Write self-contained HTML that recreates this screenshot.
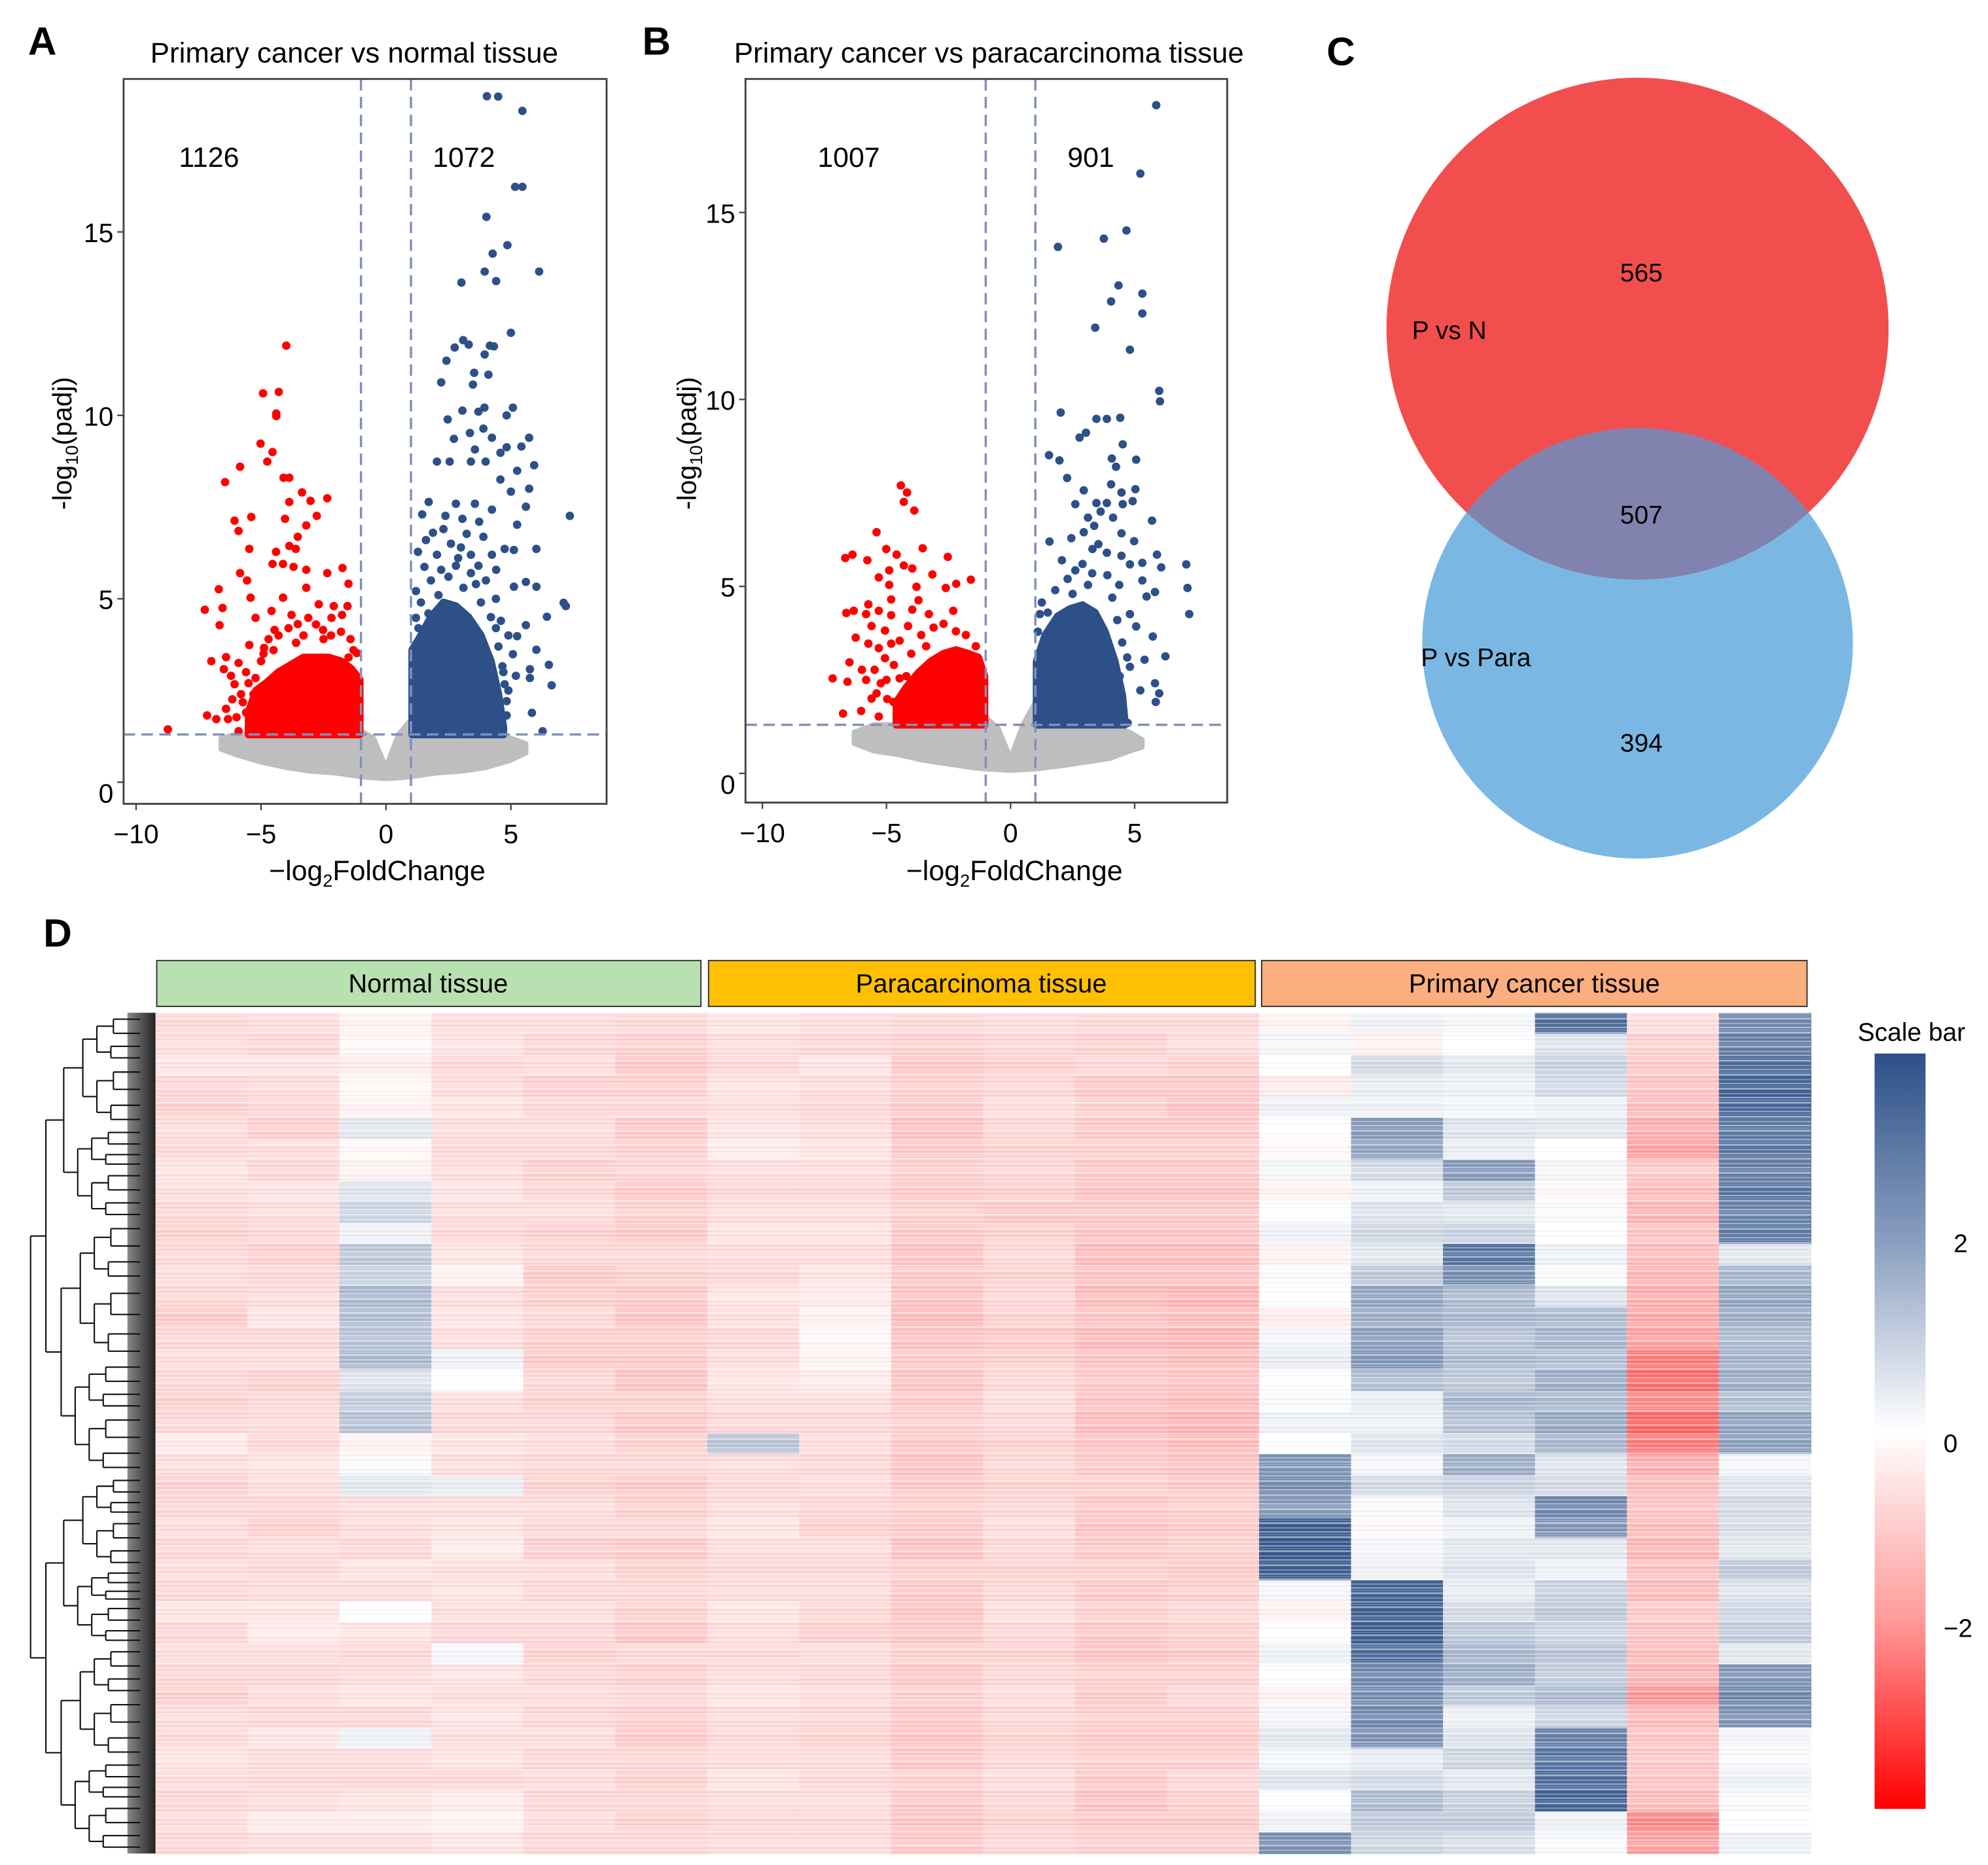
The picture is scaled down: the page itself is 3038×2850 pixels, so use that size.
<!DOCTYPE html>
<html><head><meta charset="utf-8">
<style>
html,body{margin:0;padding:0;background:#fff;}
svg{display:block;font-family:"Liberation Sans",sans-serif;}
</style></head>
<body>
<svg id="fig" width="3038" height="2850" viewBox="0 0 1560 1464" preserveAspectRatio="none" xmlns="http://www.w3.org/2000/svg">
<defs>
<linearGradient id="cbar" x1="0" y1="0" x2="0" y2="1">
<stop offset="0" stop-color="#2c5088"/>
<stop offset="0.25" stop-color="#8a9fc0"/>
<stop offset="0.5" stop-color="#ffffff"/>
<stop offset="0.75" stop-color="#ff9a9a"/>
<stop offset="1" stop-color="#ff0000"/>
</linearGradient>
<linearGradient id="leafgrad" x1="0" y1="0" x2="1" y2="0">
<stop offset="0" stop-color="#888"/><stop offset="1" stop-color="#222"/>
</linearGradient>
<pattern id="stripes" x="0" y="795" width="40" height="11" patternUnits="userSpaceOnUse">
<rect x="0" y="0" width="40" height="1" fill="#fff" fill-opacity="0.45"/>
<rect x="0" y="2.2" width="40" height="0.7" fill="#fff" fill-opacity="0.25"/>
<rect x="0" y="4" width="40" height="1.3" fill="#fff" fill-opacity="0.5"/>
<rect x="0" y="6.3" width="40" height="0.8" fill="#000" fill-opacity="0.04"/>
<rect x="0" y="8" width="40" height="0.9" fill="#fff" fill-opacity="0.35"/>
<rect x="0" y="9.7" width="40" height="0.6" fill="#000" fill-opacity="0.05"/>
</pattern>
<clipPath id="clipRed"><circle cx="1285" cy="258" r="197"/></clipPath>
</defs>
<g id="panelA"></g>
<g id="panelB"></g>
<g id="venn">
<circle cx="1285" cy="258" r="197" fill="#f24e4e"/>
<circle cx="1285" cy="505" r="169" fill="#7ab8e3"/>
<circle cx="1285" cy="505" r="169" fill="#8182ad" clip-path="url(#clipRed)"/>
<text x="1288" y="221" font-size="20" text-anchor="middle">565</text>
<text x="1108" y="266" font-size="20">P vs N</text>
<text x="1288" y="411" font-size="20" text-anchor="middle">507</text>
<text x="1115" y="523" font-size="20">P vs Para</text>
<text x="1288" y="590" font-size="20" text-anchor="middle">394</text>
</g>
<g id="letters" font-weight="bold" font-size="31">
<text x="22" y="43">A</text>
<text x="504" y="43">B</text>
<text x="1041" y="51">C</text>
<text x="34" y="743">D</text>
</g>
<g id="heat"></g>
<rect x="122" y="795" width="1299" height="660" fill="url(#stripes)"/>
<g id="dendro"></g>
<g id="headers" font-size="20.5">
<rect x="123" y="754" width="427" height="36" fill="#b8e0b0" stroke="#333" stroke-width="1"/>
<text x="336" y="779" text-anchor="middle">Normal tissue</text>
<rect x="556" y="754" width="429" height="36" fill="#fec000" stroke="#333" stroke-width="1"/>
<text x="770" y="779" text-anchor="middle">Paracarcinoma tissue</text>
<rect x="990" y="754" width="428" height="36" fill="#fbae7e" stroke="#333" stroke-width="1"/>
<text x="1204" y="779" text-anchor="middle">Primary cancer tissue</text>
</g>
<g id="colorbar">
<text x="1500" y="817" font-size="20" text-anchor="middle">Scale bar</text>
<rect x="1471" y="827" width="40" height="593" fill="url(#cbar)"/>
<text x="1533" y="983" font-size="20">2</text>
<text x="1525" y="1140" font-size="20">0</text>
<text x="1525" y="1285" font-size="20">−2</text>
</g>
</svg>
<script>
// ---------- Volcano data (x = -log2FC, y = -log10 padj) ----------
const xTicks = [-10, -5, 0, 5];
const yTicks = [0, 5, 10, 15];
const xTickLabels = ["−10", "−5", "0", "5"];
const yTickLabels = ["0", "5", "10", "15"];
const thresholdY = 1.3;
const fcCut = 1;

const redA = [[-3.99,11.9],[-4.92,10.6],[-4.29,10.64],[-4.39,10.05],[-4.39,9.98],[-5.02,9.23],[-4.54,9.0],[-4.75,8.74],[-5.84,8.6],[-6.44,8.18],[-4.1,8.3],[-3.87,8.3],[-3.36,7.9],[-3.02,7.67],[-2.35,7.74],[-3.87,7.64],[-2.77,7.26],[-6.06,7.13],[-5.39,7.23],[-5.9,6.85],[-4.04,7.18],[-3.19,7.0],[-5.47,6.36],[-4.4,6.28],[-3.87,6.44],[-3.61,6.36],[-3.53,6.69],[-4.54,5.95],[-4.12,5.95],[-3.7,5.87],[-3.19,5.79],[-2.35,5.7],[-1.74,5.84],[-1.5,5.41],[-5.84,5.7],[-5.56,5.5],[-6.69,5.26],[-5.42,5.03],[-4.12,5.03],[-3.19,5.3],[-2.69,4.85],[-2.09,4.8],[-1.54,4.8],[-7.25,4.7],[-6.54,4.75],[-6.66,4.28],[-5.22,4.48],[-4.58,4.67],[-3.78,4.56],[-3.11,4.48],[-2.18,4.48],[-1.76,4.56],[-4.46,4.15],[-3.53,4.31],[-2.52,4.15],[-1.42,3.9],[-5.47,3.74],[-4.88,3.66],[-1.17,3.52],[-6.99,3.3],[-6.4,3.41],[-5.9,3.25],[-6.49,3.08],[-6.06,2.67],[-6.15,2.26],[-5.73,2.18],[-7.16,1.82],[-6.79,1.72],[-6.32,1.72],[-5.98,1.77],[-5.9,1.39],[-8.73,1.44],[-5.22,2.84],[-5.6,3.0],[-5.3,2.4],[-5.0,3.3],[-4.7,3.9],[-4.3,4.0],[-3.9,4.2],[-3.3,4.0],[-2.8,4.3],[-2.2,4.0],[-1.8,4.1],[-1.3,3.6],[-6.2,2.9],[-5.8,2.4],[-5.6,1.9],[-4.9,3.5],[-4.5,3.6],[-3.6,3.8],[-2.5,3.9],[-1.5,3.4],[-6.4,2.0],[-5.5,2.7]];
const blueA = [[4.04,18.7],[4.49,18.69],[5.46,18.3],[5.17,16.23],[5.46,16.23],[4.02,15.41],[4.86,14.64],[4.27,14.41],[6.13,13.92],[3.95,13.92],[4.41,13.66],[3.02,13.62],[5.0,12.25],[3.09,12.05],[3.31,11.93],[2.75,11.85],[4.16,11.9],[4.32,11.88],[3.95,11.66],[2.42,11.49],[3.53,11.16],[4.1,11.11],[2.21,10.9],[3.48,10.84],[3.06,10.13],[3.7,10.1],[3.94,10.21],[5.08,10.21],[4.83,10.0],[2.47,9.89],[3.9,9.64],[3.36,9.52],[2.72,9.36],[4.24,9.39],[5.73,9.39],[5.42,9.15],[3.56,9.07],[4.83,9.13],[4.58,8.98],[5.93,8.64],[2.04,8.74],[2.55,8.74],[3.4,8.74],[3.99,8.74],[5.25,8.49],[4.58,8.25],[5.73,8.0],[5.0,7.92],[1.71,7.64],[2.8,7.59],[3.56,7.59],[4.24,7.43],[5.6,7.51],[7.36,7.26],[1.45,7.3],[2.38,7.26],[3.06,7.18],[3.73,7.1],[5.25,7.02],[1.88,6.8],[3.23,6.77],[3.9,6.69],[1.28,6.28],[2.04,6.2],[2.89,6.11],[4.24,6.2],[4.75,6.36],[5.12,6.33],[6.02,6.36],[1.54,5.87],[2.21,5.79],[3.4,5.7],[4.41,5.79],[5.6,5.46],[6.02,5.33],[5.12,5.33],[7.11,4.89],[7.2,4.8],[6.44,4.51],[1.2,5.21],[1.2,4.48],[5.6,4.28],[5.25,3.98],[6.02,3.61],[6.52,3.2],[5.76,3.08],[5.76,2.84],[6.63,2.64],[4.75,2.67],[4.83,2.21],[5.84,1.89],[4.83,1.82],[6.27,1.39],[5.08,3.49],[4.66,3.16],[1.6,6.6],[2.3,6.9],[2.6,6.5],[3.0,6.4],[3.4,6.2],[3.7,5.9],[4.0,5.5],[4.4,5.0],[4.6,4.4],[4.9,4.0],[1.8,5.5],[2.5,5.6],[3.1,5.3],[3.8,4.9],[4.2,4.5],[4.5,3.7],[1.4,4.9],[2.1,5.1],[1.3,4.2],[1.7,4.6],[4.7,3.0],[4.9,2.5],[5.2,2.9],[4.4,4.2],[3.6,5.4],[2.8,5.9]];
const denseRedA = [[-5.5,1.9],[-5.2,2.5],[-4.8,2.7],[-4.3,3.0],[-3.8,3.2],[-3.3,3.4],[-2.8,3.4],[-2.3,3.4],[-1.8,3.3],[-1.4,3.1],[-1.05,2.8]];
const denseBlueA = [[1.05,3.6],[1.4,4.0],[1.8,4.5],[2.3,4.9],[2.8,4.8],[3.3,4.5],[3.8,4.0],[4.2,3.3],[4.5,2.4],[4.7,1.5]];
const grayA = [[-6.6,0.9,1.2],[-6.0,0.75,1.3],[-5.0,0.55,1.3],[-4.0,0.4,1.3],[-3.0,0.3,1.3],[-2.0,0.25,1.3],[-1.0,0.15,1.4],[-0.5,0.12,1.2],[0,0.1,0.4],[0.5,0.12,1.3],[1.0,0.15,1.7],[2.0,0.25,1.3],[3.0,0.3,1.3],[4.0,0.4,1.3],[5.0,0.6,1.2],[5.6,0.8,1.05]];

const redB = [[-4.42,7.7],[-4.17,7.51],[-4.3,7.26],[-3.88,7.03],[-5.4,6.45],[-5.01,6.0],[-3.54,6.02],[-6.66,5.76],[-6.37,5.85],[-5.77,5.7],[-4.59,5.85],[-2.53,5.79],[-4.89,5.43],[-4.3,5.56],[-3.96,5.48],[-3.15,5.32],[-5.31,5.24],[-1.6,5.18],[-2.19,5.07],[-4.89,5.04],[-3.79,4.99],[-2.61,4.96],[-4.81,4.65],[-3.71,4.63],[-5.73,4.52],[-6.62,4.29],[-6.32,4.35],[-5.31,4.35],[-5.82,4.26],[-4.81,4.23],[-3.96,4.38],[-3.29,4.26],[-2.31,4.35],[-5.6,3.94],[-5.06,3.82],[-4.13,3.94],[-6.24,3.63],[-5.73,3.47],[-5.31,3.35],[-4.81,3.47],[-4.47,3.55],[-6.49,2.97],[-5.99,2.77],[-5.48,2.77],[-5.06,3.08],[-7.17,2.54],[-6.57,2.45],[-5.82,2.5],[-5.23,2.41],[-5.4,2.14],[-4.97,1.99],[-6.75,1.6],[-6.02,1.67],[-5.31,1.52],[-4.72,1.91],[-4.47,2.54],[-3.6,3.7],[-3.1,3.9],[-2.7,4.0],[-2.2,3.8],[-1.8,3.7],[-1.4,3.4],[-4.0,3.2],[-3.4,3.4],[-5.0,2.5],[-4.7,2.9],[-5.6,2.0],[-4.2,2.6]];
const blueB = [[5.87,17.87],[5.23,16.04],[4.67,14.52],[3.76,14.3],[1.91,14.08],[4.35,13.05],[5.31,12.83],[4.05,12.62],[5.31,12.3],[3.41,11.92],[4.81,11.33],[5.99,10.23],[6.02,9.95],[2.02,9.65],[3.46,9.48],[3.88,9.48],[4.42,9.51],[3.04,9.11],[2.78,8.98],[4.52,8.8],[1.55,8.51],[1.97,8.37],[4.08,8.42],[5.06,8.39],[4.25,8.2],[2.28,7.9],[4.05,7.73],[5.03,7.6],[2.95,7.57],[4.47,7.51],[4.92,7.28],[2.61,7.2],[3.46,7.23],[3.88,7.23],[4.52,7.2],[3.63,7.0],[4.13,6.84],[5.7,6.76],[3.12,6.84],[3.37,6.62],[4.47,6.42],[2.95,6.45],[1.57,6.2],[2.45,6.29],[3.54,6.13],[4.98,6.21],[3.88,5.9],[4.47,5.82],[5.9,5.85],[7.08,5.59],[6.07,5.51],[5.31,5.63],[4.81,5.59],[2.07,5.7],[2.61,5.43],[3.29,5.35],[4.38,5.04],[5.31,5.16],[7.13,4.96],[3.12,5.04],[5.82,4.85],[5.48,4.73],[7.2,4.26],[4.81,4.26],[4.3,4.1],[3.63,3.97],[5.06,3.93],[5.73,3.66],[6.24,3.13],[5.4,3.04],[4.81,2.85],[5.82,2.41],[5.99,2.14],[5.85,1.91],[4.72,1.35],[5.23,2.22],[4.3,2.07],[3.88,1.91],[1.18,4.26],[1.26,4.57],[1.1,3.79],[2.3,5.2],[2.9,5.6],[3.3,6.0],[3.9,5.3],[4.1,4.7],[1.8,4.9],[2.5,4.8],[4.5,3.5],[4.7,3.1],[4.4,2.6],[1.5,4.3]];
const denseRedB = [[-4.6,1.9],[-4.2,2.3],[-3.7,2.7],[-3.2,3.0],[-2.7,3.2],[-2.2,3.3],[-1.7,3.2],[-1.3,3.1],[-1.05,2.6]];
const denseBlueB = [[1.05,3.0],[1.4,3.7],[1.9,4.2],[2.4,4.4],[2.9,4.5],[3.4,4.3],[3.8,3.8],[4.2,3.0],[4.5,2.1],[4.6,1.4]];
const grayB = [[-6.3,0.8,1.1],[-5.5,0.6,1.3],[-4.5,0.5,1.3],[-3.5,0.35,1.3],[-2.5,0.25,1.3],[-1.5,0.15,1.3],[-1.0,0.12,1.5],[-0.5,0.1,1.2],[0,0.08,0.4],[0.5,0.1,1.3],[1.0,0.12,1.9],[2.0,0.2,1.3],[3.0,0.3,1.3],[4.0,0.4,1.3],[4.8,0.6,1.1],[5.3,0.7,0.9]];

const NS = "http://www.w3.org/2000/svg";
function mk(tag, attrs, parent) {
  const e = document.createElementNS(NS, tag);
  for (const k in attrs) e.setAttribute(k, attrs[k]);
  parent.appendChild(e);
  return e;
}
function scale(d0, d1, r0, r1) { return v => r0 + (v - d0) / (d1 - d0) * (r1 - r0); }

function drawVolcano(g, cfg) {
  const X = scale(cfg.xd[0], cfg.xd[1], cfg.box[0], cfg.box[2]);
  const Y = scale(cfg.yd[0], cfg.yd[1], cfg.box[3], cfg.box[1]);
  let top = cfg.gray.map(p => X(p[0]) + "," + Y(p[2]));
  let bot = cfg.gray.slice().reverse().map(p => X(p[0]) + "," + Y(p[1]));
  const ga = mk("polygon", {points: top.concat(bot).join(" "), fill: "#bebebe", stroke: "#bebebe", "stroke-width": 4, "stroke-linejoin": "round"}, g);
  
  
  [[cfg.denseRed, "#ff0000", "dense-down-points"], [cfg.denseBlue, "#2d5089", "dense-up-points"]].forEach(([arr, col, nm]) => {
    const pts = arr.map(p => X(p[0]) + "," + Y(p[1]));
    const first = arr[0], last = arr[arr.length - 1];
    pts.push(X(last[0]) + "," + Y(thresholdY));
    pts.unshift(X(first[0]) + "," + Y(thresholdY));
    const pg = mk("polygon", {points: pts.join(" "), fill: col, stroke: col, "stroke-width": 6, "stroke-linejoin": "round"}, g);
    
    
  });
  cfg.red.forEach(p => {
    const c = mk("circle", {cx: X(p[0]), cy: Y(p[1]), r: 3.3, fill: "#ff0000"}, g);
    
    
  });
  cfg.blue.forEach(p => {
    const c = mk("circle", {cx: X(p[0]), cy: Y(p[1]), r: 3.3, fill: "#2d5089"}, g);
    
    
  });
  const dash = {stroke: "#7f91bd", "stroke-width": 1.8, "stroke-dasharray": "9,5", fill: "none"};
  [-fcCut, fcCut].forEach(v => {
    const l = mk("line", Object.assign({x1: X(v), x2: X(v), y1: cfg.box[1], y2: cfg.box[3]}, dash), g);
    
    
  });
  const h = mk("line", Object.assign({x1: cfg.box[0], x2: cfg.box[2], y1: Y(thresholdY), y2: Y(thresholdY)}, dash), g);
  
  
  const b = mk("rect", {x: cfg.box[0], y: cfg.box[1], width: cfg.box[2] - cfg.box[0], height: cfg.box[3] - cfg.box[1], fill: "none", stroke: "#444", "stroke-width": 1.5}, g);
  
  
  xTicks.forEach((v, i) => {
    const t = mk("line", {x1: X(v), x2: X(v), y1: cfg.box[3], y2: cfg.box[3] + 5, stroke: "#444", "stroke-width": 1.2}, g);
    
    
    const tx = mk("text", {x: X(v), y: cfg.box[3] + 31, "font-size": 21, "text-anchor": "middle"}, g);
    tx.textContent = xTickLabels[i];
    
    
  });
  yTicks.forEach((v, i) => {
    const t = mk("line", {x1: cfg.box[0] - 5, x2: cfg.box[0], y1: Y(v), y2: Y(v), stroke: "#444", "stroke-width": 1.2}, g);
    
    
    const tx = mk("text", {x: cfg.box[0] - 8, y: Y(v) + (v === 0 ? 16 : 8), "font-size": 21, "text-anchor": "end"}, g);
    tx.textContent = yTickLabels[i];
    
    
  });
  const ti = mk("text", {x: cfg.titleX, y: 49, "font-size": 22.5, "text-anchor": "middle"}, g);
  ti.textContent = cfg.title;
  
  
  const xt = mk("text", {x: cfg.xTitleX, y: 691, "font-size": 22, "text-anchor": "middle"}, g);
  xt.innerHTML = '−log<tspan font-size="14" dy="5">2</tspan><tspan dy="-5">FoldChange</tspan>';
  
  
  const cy = 348;
  const yt = mk("text", {x: cfg.yTitleX, y: cy, "font-size": 21, "text-anchor": "middle", transform: `rotate(-90 ${cfg.yTitleX} ${cy})`}, g);
  yt.innerHTML = '-log<tspan font-size="14" dy="5">10</tspan><tspan dy="-5">(padj)</tspan>';
  
  
  cfg.counts.forEach(c => {
    const t = mk("text", {x: c[0], y: 131, "font-size": 22, "text-anchor": "middle"}, g);
    t.textContent = c[1];
    
    
  });
}

drawVolcano(document.getElementById("panelA"), {
  box: [97, 62, 476, 631], xd: [-10.5, 8.83], yd: [-0.59, 19.17],
  red: redA, blue: blueA, denseRed: denseRedA, denseBlue: denseBlueA, gray: grayA,
  title: "Primary cancer vs normal tissue", titleX: 278, xTitleX: 296, yTitleX: 56,
  counts: [[164, "1126"], [364, "1072"]]
});
drawVolcano(document.getElementById("panelB"), {
  box: [585, 62, 963, 630], xd: [-10.68, 8.73], yd: [-0.78, 18.57],
  red: redB, blue: blueB, denseRed: denseRedB, denseBlue: denseBlueB, gray: grayB,
  title: "Primary cancer vs paracarcinoma tissue", titleX: 776, xTitleX: 796, yTitleX: 546,
  counts: [[666, "1007"], [856, "901"]]
});

// ---------- Heatmap (18 samples x 40 row blocks) ----------
const sampleGroups = ["Normal","Normal","Normal","Normal","Normal","Normal","Para","Para","Para","Para","Para","Para","Primary","Primary","Primary","Primary","Primary","Primary"];
const col01 = [-0.6,-0.5,-0.4,-0.6,-0.7,-0.5,-0.6,-0.4,-0.5,-0.6,-0.7,-0.6,-0.5,-0.6,-0.8,-0.6,-0.5,-0.6,-0.7,-0.6,-0.3,-0.5,-0.7,-0.6,-0.5,-0.6,-0.5,-0.6,-0.4,-0.6,-0.5,-0.6,-0.7,-0.5,-0.6,-0.4,-0.5,-0.6,-0.5,-0.6];
const col02 = [-0.5,-0.6,-0.4,-0.5,-0.6,-0.7,-0.5,-0.6,-0.4,-0.5,-0.6,-0.7,-0.6,-0.5,-0.4,-0.6,-0.5,-0.7,-0.6,-0.5,-0.6,-0.4,-0.5,-0.6,-0.7,-0.5,-0.6,-0.5,-0.4,-0.3,-0.5,-0.6,-0.5,-0.6,-0.4,-0.5,-0.6,-0.5,-0.3,-0.5];
const col03 = [-0.2,-0.1,-0.3,-0.1,-0.2,0.5,-0.1,-0.2,0.6,0.9,0.3,1.2,1.0,1.5,1.4,1.3,1.5,0.6,1.1,1.3,-0.2,0.1,0.5,-0.5,-0.5,-0.6,-0.4,-0.5,0.0,-0.4,-0.6,-0.5,-0.4,-0.6,0.3,-0.5,-0.6,-0.4,-0.3,-0.5];
const col04 = [-0.5,-0.4,-0.6,-0.5,-0.4,-0.5,-0.6,-0.5,-0.4,-0.5,-0.6,-0.4,-0.2,-0.5,-0.4,-0.5,0.3,0.0,-0.5,-0.6,-0.4,-0.5,0.4,-0.5,-0.4,-0.3,-0.5,-0.4,-0.5,-0.6,0.2,-0.4,-0.5,-0.4,-0.5,-0.4,-0.6,-0.3,-0.2,-0.4];
const col05 = [-0.5,-0.6,-0.5,-0.7,-0.6,-0.5,-0.6,-0.7,-0.6,-0.5,-0.7,-0.6,-0.8,-0.7,-0.6,-0.7,-0.8,-0.6,-0.7,-0.6,-0.5,-0.6,-0.7,-0.5,-0.6,-0.7,-0.5,-0.6,-0.5,-0.6,-0.7,-0.6,-0.5,-0.6,-0.5,-0.6,-0.5,-0.6,-0.5,-0.6];
const col06 = [-0.6,-0.7,-0.8,-0.7,-0.6,-0.8,-0.7,-0.6,-0.8,-0.7,-0.8,-0.6,-0.7,-0.8,-0.9,-0.7,-0.8,-0.9,-0.7,-0.8,-0.7,-0.6,-0.8,-0.7,-0.6,-0.8,-0.7,-0.6,-0.7,-0.8,-0.6,-0.7,-0.6,-0.7,-0.8,-0.6,-0.7,-0.6,-0.7,-0.6];
const col07 = [-0.4,-0.5,-0.6,-0.4,-0.5,-0.4,-0.3,-0.5,-0.6,-0.5,-0.4,-0.5,-0.6,-0.4,-0.5,-0.6,-0.5,-0.4,-0.5,-0.6,1.3,-0.5,-0.6,-0.5,-0.4,-0.5,-0.6,-0.5,-0.4,-0.5,-0.6,-0.5,-0.4,-0.5,-0.6,-0.5,-0.4,-0.5,-0.6,-0.5];
const col08 = [-0.5,-0.6,-0.4,-0.5,-0.6,-0.5,-0.4,-0.5,-0.6,-0.5,-0.4,-0.5,-0.4,-0.3,-0.2,-0.1,-0.2,-0.3,-0.5,-0.6,-0.5,-0.6,-0.5,-0.6,-0.7,-0.5,-0.6,-0.5,-0.6,-0.7,-0.5,-0.6,-0.5,-0.6,-0.7,-0.5,-0.6,-0.5,-0.6,-0.5];
const col09 = [-0.6,-0.7,-0.8,-0.7,-0.8,-0.9,-0.8,-0.7,-0.8,-0.7,-0.8,-0.9,-0.8,-0.9,-1.0,-0.9,-0.8,-0.9,-0.8,-0.7,-0.8,-0.9,-0.8,-0.7,-0.8,-0.9,-0.7,-0.8,-0.9,-0.8,-0.7,-0.8,-0.7,-0.8,-0.9,-0.8,-0.7,-0.8,-0.9,-0.8];
const col10 = [-0.5,-0.6,-0.7,-0.6,-0.5,-0.6,-0.7,-0.6,-0.7,-0.8,-0.7,-0.6,-0.7,-0.6,-0.7,-0.8,-0.7,-0.6,-0.5,-0.6,-0.7,-0.6,-0.7,-0.6,-0.5,-0.6,-0.7,-0.6,-0.5,-0.6,-0.7,-0.6,-0.5,-0.6,-0.7,-0.6,-0.5,-0.6,-0.7,-0.6];
const col11 = [-0.6,-0.7,-0.6,-0.8,-0.7,-0.8,-0.7,-0.8,-0.9,-0.8,-0.9,-1.0,-0.9,-1.0,-0.9,-1.0,-0.9,-0.8,-0.9,-1.0,-0.9,-0.8,-0.7,-0.8,-0.9,-0.8,-0.7,-0.8,-0.7,-0.8,-0.9,-0.7,-0.8,-0.7,-0.8,-0.7,-0.8,-0.9,-0.8,-0.7];
const col12 = [-0.6,-0.5,-0.7,-0.8,-0.9,-0.8,-0.7,-0.8,-0.9,-0.8,-0.9,-1.0,-0.9,-1.1,-1.0,-1.1,-1.0,-0.9,-1.0,-1.1,-1.0,-0.9,-0.8,-0.7,-0.8,-0.7,-0.8,-0.7,-0.6,-0.7,-0.8,-0.7,-0.6,-0.7,-0.8,-0.7,-0.6,-0.7,-0.8,-0.7];
const col13 = [-0.2,0.2,0.0,-0.3,0.3,0.0,-0.1,0.2,-0.2,0.0,0.3,-0.2,0.1,0.0,-0.3,0.2,0.4,0.0,0.1,0.3,0.0,2.3,2.5,2.2,3.5,3.6,3.5,0.2,-0.2,0.0,0.3,0.0,-0.2,0.2,0.5,0.2,0.6,0.0,0.3,2.4];
const col14 = [0.3,-0.2,0.8,0.4,0.3,2.2,2.0,0.8,0.3,0.6,0.9,0.5,1.2,2.0,1.8,2.1,2.3,1.4,0.4,0.3,0.6,0.2,0.8,0.1,-0.1,0.2,0.3,3.4,3.5,3.5,3.2,2.6,2.5,2.6,2.4,0.4,0.8,1.5,1.2,0.9];
const col15 = [0.2,0.0,0.5,0.3,0.2,0.6,0.4,2.2,1.2,0.5,1.0,3.0,2.5,1.5,1.6,1.3,1.5,1.2,1.6,1.3,0.8,1.8,1.0,0.6,0.3,0.5,0.6,0.4,0.8,1.2,1.6,1.8,1.2,0.3,0.6,0.9,0.5,1.0,1.2,0.7];
const col16 = [3.2,0.6,1.0,0.8,0.3,0.5,0.0,0.2,-0.1,0.1,0.0,0.3,0.1,0.6,1.5,1.6,1.4,1.8,1.5,1.9,1.6,0.6,0.8,2.6,2.3,0.5,0.3,1.0,1.2,0.9,1.3,1.1,1.5,0.9,2.8,3.0,3.2,3.4,0.3,0.1];
const col17 = [-0.5,-0.7,-0.8,-0.9,-1.0,-1.2,-1.4,-0.8,-1.0,-1.1,-0.9,-1.0,-1.1,-1.2,-1.3,-1.4,-2.0,-2.2,-1.8,-2.3,-2.0,-1.2,-1.0,-0.9,-1.0,-1.1,-0.9,-1.0,-0.8,-0.9,-1.0,-1.1,-1.6,-1.0,-0.9,-0.8,-0.9,-1.0,-1.8,-1.4];
const col18 = [2.6,2.8,3.2,3.4,3.3,2.9,3.0,2.8,3.0,2.7,2.9,0.5,1.6,2.0,1.8,1.5,1.7,1.8,1.4,2.0,2.1,0.2,0.6,0.8,0.7,0.5,1.2,0.6,0.9,1.1,0.5,2.3,2.6,2.4,0.2,0.1,0.3,0.1,0.0,0.3];
const heatCols = [col01,col02,col03,col04,col05,col06,col07,col08,col09,col10,col11,col12,col13,col14,col15,col16,col17,col18];

function heatColor(v) {
  const m = 3.8;
  const t = Math.min(1, Math.abs(v) / m);
  if (v >= 0) {
    const r = Math.round(255 + (44 - 255) * t), g = Math.round(255 + (80 - 255) * t), b = Math.round(255 + (136 - 255) * t);
    return `rgb(${r},${g},${b})`;
  }
  const gb = Math.round(255 * (1 - t));
  return `rgb(255,${gb},${gb})`;
}
(function drawHeat() {
  const g = document.getElementById("heat");
  const x0 = 122, x1 = 1421, y0 = 795, y1 = 1455;
  const nC = heatCols.length, nR = heatCols[0].length;
  const cw = (x1 - x0) / nC, rh = (y1 - y0) / nR;
  heatCols.forEach((col, ci) => {
    col.forEach((v, ri) => {
      const r = mk("rect", {x: x0 + ci * cw, y: y0 + ri * rh, width: cw + 0.4, height: rh + 0.4, fill: heatColor(v)}, g);
      
      
    });
  });
})();

// ---------- Dendrogram (decorative tree) ----------
(function drawDendro() {
  const g = document.getElementById("dendro");
  const bar = mk("rect", {x: 100, y: 795, width: 22, height: 660, fill: "url(#leafgrad)"}, g);
  
  
  let d = "";
  function node(top, bot, x, depth) {
    const mid = (top + bot) / 2;
    if (depth >= 6) { d += `M${x},${mid}H110`; return mid; }
    const split = top + (bot - top) * (depth % 2 ? 0.45 : 0.55);
    const cx = x + (depth < 2 ? 12 : 11);
    const a = node(top, split, cx + (depth % 3) * 2, depth + 1);
    const b = node(split, bot, cx, depth + 1);
    d += `M${x},${a}V${b}M${x},${a}H${cx + (depth % 3) * 2}M${x},${b}H${cx}`;
    return (a + b) / 2;
  }
  node(795, 1455, 24, 0);
  const p = mk("path", {d: d, fill: "none", stroke: "#111", "stroke-width": 1.1}, g);
  
  
})();
</script>
</body></html>
